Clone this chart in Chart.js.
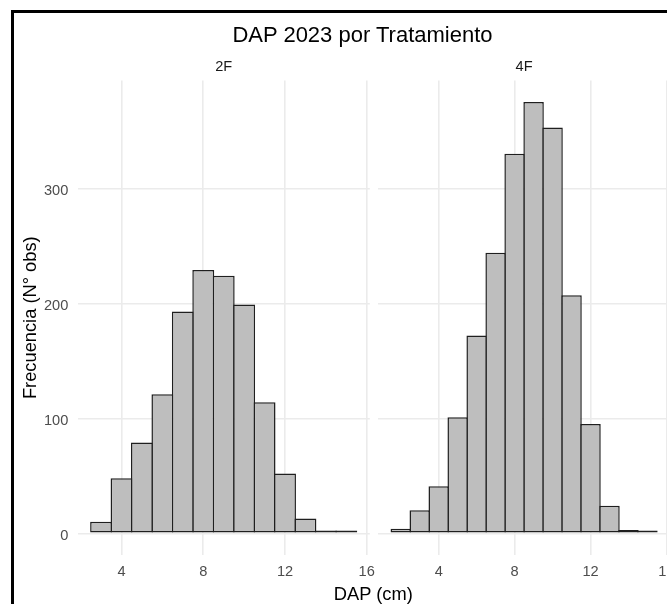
<!DOCTYPE html>
<html>
<head>
<meta charset="utf-8">
<title>DAP 2023 por Tratamiento</title>
<script src="https://cdn.jsdelivr.net/npm/chart.js@4.4.1/dist/chart.umd.min.js"></script>
<style>
  html, body { margin: 0; padding: 0; background: #fff; overflow: hidden; }
  #wrap { position: relative; width: 667px; height: 604px; overflow: hidden;
          font-family: "Liberation Sans", Arial, sans-serif; }
  #frame { position: absolute; left: 11px; top: 10px; width: 800px; height: 800px;
           border-left: 3px solid #000; border-top: 3px solid #000; }
  canvas { position: absolute; }
  #c2f { left: 14px; top: 40px; }
  #c4f { left: 372px; top: 40px; }
  .txt { position: absolute; width: 400px; text-align: center; white-space: nowrap;
         line-height: 1; color: #000; }
  #title { left: 162.5px; top: 24px; font-size: 22px; }
  #xlab { left: 173.3px; top: 584.5px; font-size: 18.3px; }
</style>
</head>
<body>
<div id="wrap">
  <div id="frame"></div>
  <canvas id="c2f" width="372" height="564"></canvas>
  <canvas id="c4f" width="300" height="564"></canvas>
  <div id="title" class="txt">DAP 2023 por Tratamiento</div>
  <div id="xlab" class="txt">DAP (cm)</div>
</div>
<script>
// histogram bins (cm, bin centres) and counts
const bins2F = [3, 4, 5, 6, 7, 8, 9, 10, 11, 12, 13, 14, 15];
const counts2F = [10, 48, 79, 121, 193, 229, 224, 199, 114, 52, 13, 2, 1];
const bins4F = [2, 3, 4, 5, 6, 7, 8, 9, 10, 11, 12, 13, 14, 15];
const counts4F = [4, 20, 41, 101, 172, 244, 330, 375, 353, 207, 95, 24, 3, 1];

const xGridTicks = [2, 4, 6, 8, 10, 12, 14, 16];
const xLabelTicks = [4, 8, 12, 16];
const yGridTicks = [0, 50, 100, 150, 200, 250, 300, 350];
const yLabelTicks = [0, 100, 200, 300];

Chart.defaults.font.family = '"Liberation Sans", Arial, sans-serif';
Chart.defaults.animation = false;

const gridColor = '#EBEBEB';

function makePanel(id, strip, bins, counts, xMin, xMax, opts) {
  return new Chart(document.getElementById(id), {
    type: 'bar',
    data: {
      datasets: [{
        data: bins.map((b, i) => ({ x: b, y: counts[i] })),
        backgroundColor: '#BEBEBE',
        borderColor: '#1F1F1F',
        borderWidth: 1.5,
        borderSkipped: false,
        minBarLength: 2.8,            // keeps the 1-2 count bins visible as dark lines
        barPercentage: opts.barPct,   // a bit over 1 so neighbouring borders overlap
        categoryPercentage: 1,
        grouped: false
      }]
    },
    options: {
      responsive: false,
      layout: { padding: { left: 0, right: opts.padRight, top: 0, bottom: 0 } },
      plugins: {
        legend: { display: false },
        tooltip: { enabled: false },
        title: {
          display: true, text: strip, fullSize: false, color: '#1A1A1A',
          font: { size: 14.6, weight: 'normal' },
          padding: { top: 18.2, bottom: 4.8 }
        }
      },
      scales: {
        x: {
          type: 'linear', min: xMin, max: xMax, offset: false, bounds: 'data',
          afterBuildTicks: s => { s.ticks = xGridTicks.map(v => ({ value: v })); },
          afterFit: s => { s.height = 49.1; s.paddingLeft = 0; s.paddingRight = 0; },
          grid: {
            offset: false, color: gridColor, drawTicks: false,
            lineWidth: c => (c.tick && xLabelTicks.includes(c.tick.value)) ? 1.6 : 1
          },
          border: { display: false },
          ticks: {
            padding: 8, color: '#4D4D4D', font: { size: 14.6 },
            maxRotation: 0, autoSkip: false,
            callback: v => xLabelTicks.includes(v) ? v : null
          }
        },
        y: {
          min: -18.75, max: 393.75, bounds: 'data',
          afterBuildTicks: s => { s.ticks = yGridTicks.map(v => ({ value: v })); },
          afterFit: s => { s.width = opts.yWidth; s.paddingTop = 0; s.paddingBottom = 0; },
          grid: {
            color: gridColor, drawTicks: false,
            lineWidth: c => (c.tick && yLabelTicks.includes(c.tick.value)) ? 1.6 : 1
          },
          border: { display: false },
          ticks: {
            display: opts.showY, padding: 9.3, labelOffset: 2.5,
            color: '#4D4D4D', font: { size: 14.6 },
            callback: v => yLabelTicks.includes(v) ? v : null
          },
          title: {
            display: opts.showY, text: 'Frecuencia (N° obs)', color: '#000',
            font: { size: 18.3 }, padding: { top: 6, bottom: 0 }
          }
        }
      }
    }
  });
}

makePanel('c2f', '2F', bins2F, counts2F, 1.85, 16.15,
  { barPct: 1.073, padRight: 16.2, yWidth: 63.6, showY: true });
makePanel('c4f', '4F', bins4F, counts4F, 0.8, 16.2,
  { barPct: 1.079, padRight: 1.8, yWidth: 6.0, showY: false });
</script>
</body>
</html>
